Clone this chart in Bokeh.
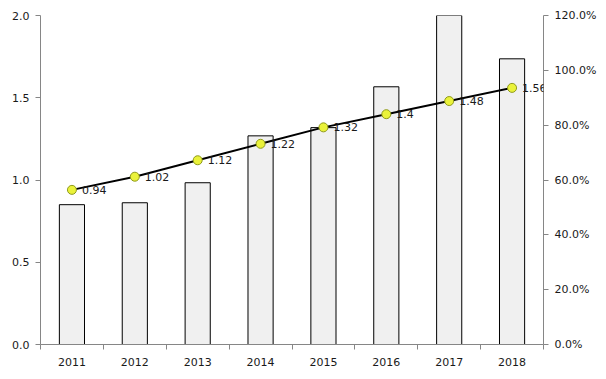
from bokeh.plotting import figure
from bokeh.models import (Range1d, LinearAxis, FixedTicker, PrintfTickFormatter,
                          ColumnDataSource, LabelSet)
from bokeh.embed import file_html
from bokeh.resources import INLINE
from bokeh.core.properties import value

years = ["2011", "2012", "2013", "2014", "2015", "2016", "2017", "2018"]
bar_pct = [51.0, 51.7, 59.0, 76.1, 79.1, 94.0, 125.0, 104.2]
line_vals = [0.94, 1.02, 1.12, 1.22, 1.32, 1.40, 1.48, 1.56]
left_ticks = [0.0, 0.5, 1.0, 1.5, 2.0]
right_ticks = [0, 20, 40, 60, 80, 100, 120]

xs = list(range(1, len(years) + 1))
src = ColumnDataSource(dict(
    x=xs, pct=bar_pct, v=line_vals,
    lab=[format(v, "g") for v in line_vals],
))

FONT = "DejaVu Sans"
AX = "#868686"

p = figure(frame_width=503, frame_height=329, output_backend="svg",
           toolbar_location=None, x_range=Range1d(0.5, len(years) + 0.5),
           y_range=Range1d(0, 2), min_border_left=40, min_border_right=55,
           min_border_top=15, min_border_bottom=27)
p.outline_line_color = None
p.xgrid.visible = False
p.ygrid.visible = False
p.background_fill_color = "white"
p.border_fill_color = "white"

p.extra_y_ranges = {"pct": Range1d(0, 120)}

p.vbar(x="x", top="pct", width=0.4, source=src, y_range_name="pct",
       fill_color="#f0f0f0", line_color="black", line_width=1)
p.line(x="x", y="v", source=src, line_color="black", line_width=2)
p.scatter(x="x", y="v", source=src, size=9, fill_color="#eaf23a",
          line_color="#8f9a1c", line_width=1)
labels = LabelSet(x="x", y="v", text="lab", source=src, x_offset=10, y_offset=0,
                  text_align="left", text_baseline="middle", text_font=value(FONT),
                  text_font_size=value("11px"), text_color=value("#1a1a1a"),
                  level="overlay")
p.add_layout(labels)

# left axis
ya = p.yaxis[0]
ya.ticker = FixedTicker(ticks=left_ticks)
ya.formatter = PrintfTickFormatter(format="%.1f")

# right axis
ra = LinearAxis(y_range_name="pct", ticker=FixedTicker(ticks=right_ticks),
                formatter=PrintfTickFormatter(format="%.1f%%"))
p.add_layout(ra, "right")

# x axis
xa = p.xaxis[0]
xa.ticker = FixedTicker(ticks=xs, minor_ticks=[i + 0.5 for i in range(0, len(years) + 1)])
xa.major_label_overrides = {x: y for x, y in zip(xs, years)}
xa.major_tick_out = 0
xa.major_tick_in = 0
xa.minor_tick_out = 5
xa.minor_tick_in = 0

for ax in [ya, ra, xa]:
    ax.axis_line_color = AX
    ax.major_tick_line_color = AX
    ax.minor_tick_line_color = AX
    ax.major_label_text_font = FONT
    ax.major_label_text_font_size = "11px"
    ax.major_label_text_color = "#1a1a1a"
for ax in [ya, ra]:
    ax.major_tick_out = 5
    ax.major_tick_in = 0
    ax.minor_tick_out = 0
    ax.minor_tick_in = 0
    ax.major_label_standoff = 6
xa.major_label_standoff = 8

open("out.html", "w").write(file_html(p, INLINE))
